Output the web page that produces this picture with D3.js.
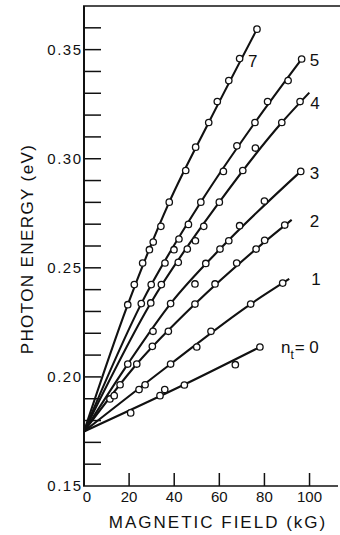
<!DOCTYPE html>
<html>
<head>
<meta charset="utf-8">
<script src="https://cdn.jsdelivr.net/npm/d3@7"></script>
<style>
  body { margin: 0; background: #fff; }
  svg { display: block; }
  text { font-family: "Liberation Sans", Arial, sans-serif; fill: #111; }
</style>
</head>
<body>
<div id="chart"></div>
<script>
// axis ticks
const fieldTicks = [0, 20, 40, 60, 80, 100];
const energyTicks = [0.15, 0.20, 0.25, 0.30, 0.35];
const energyMinor = [0.16, 0.17, 0.18, 0.19, 0.21, 0.22, 0.23, 0.24, 0.26, 0.27,
                     0.28, 0.29, 0.31, 0.32, 0.33, 0.34, 0.36];

// measured points [field kG, photon energy eV], one list per n_t
const pts0 = [[20.7, .1835], [33.7, .1914], [35.8, .1942], [44.5, .1963], [67.1, .2056], [78.0, .2137]];
const pts1 = [[24.4, .1942], [27.1, .1964], [38.4, .2059], [50.0, .2137], [56.3, .2209], [73.9, .2334], [88.1, .2430]];
const pts2 = [[11.5, .1899], [13.4, .1914], [16.0, .1964], [23.4, .2059], [30.3, .2140], [37.4, .2209],
              [49.2, .2334], [58.1, .2426], [67.7, .2522], [76.3, .2586], [80.1, .2626], [89.0, .2696]];
const pts3 = [[19.4, .2059], [30.6, .2209], [38.4, .2336], [49.2, .2426], [54.0, .2520], [60.3, .2586],
              [64.2, .2624], [69.0, .2693], [80.0, .2806], [96.1, .2942]];
const pts4 = [[29.6, .2339], [34.3, .2423], [41.8, .2525], [45.8, .2586], [49.4, .2624], [53.1, .2690],
              [60.0, .2801], [70.4, .2946], [76.0, .3049], [87.7, .3166], [95.8, .3262]];
const pts5 = [[25.4, .2336], [29.8, .2423], [35.9, .2522], [39.9, .2583], [42.1, .2632], [46.3, .2699],
              [51.8, .2801], [61.8, .2942], [67.8, .3059], [75.8, .3166], [81.4, .3262], [90.5, .3358], [96.5, .3457]];
const pts7 = [[19.4, .2331], [22.3, .2423], [26.0, .2522], [29.0, .2583], [30.7, .2618], [34.1, .2690],
              [37.8, .2801], [45.1, .2946], [49.5, .3053], [55.3, .3166], [59.1, .3262], [64.2, .3358],
              [69.0, .3459], [76.7, .3594]];

// drawn fit curves
const fit0 = [[0, .175], [44.5, .1965], [78.0, .2137]];
const fit1 = [[0, .175], [38.4, .2059], [73.9, .2334], [91.0, .2449]];
const fit2 = [[0, .175], [23.4, .2059], [49.2, .2334], [76.3, .2586], [92.1, .2720]];
const fit3 = [[0, .175], [19.4, .2059], [38.4, .2336], [60.3, .2586], [96.1, .2942]];
const fit4 = [[0, .175], [29.6, .2339], [60.0, .2801], [87.7, .3166], [99.9, .3303]];
const fit5 = [[0, .175], [25.4, .2336], [51.8, .2801], [75.8, .3166], [96.5, .3457]];
const fit7 = [[0, .175], [19.4, .2331], [37.8, .2801], [55.3, .3166], [76.7, .3594]];

const seriesNames = ["0", "1", "2", "3", "4", "5", "7"];
const seriesPts = [pts0, pts1, pts2, pts3, pts4, pts5, pts7];
const seriesFit = [fit0, fit1, fit2, fit3, fit4, fit5, fit7];

const width = 340, height = 535;
const ink = "#111";

const svg = d3.select("#chart").append("svg")
  .attr("width", width)
  .attr("height", height);

const x = d3.scaleLinear().domain([0, 112]).range([84, 336.6]);
const y = d3.scaleLinear().domain([0.15, 0.37]).range([486, 6]);

// frame: left axis, bottom axis, top rule
svg.append("line").attr("x1", x(0)).attr("x2", x(0)).attr("y1", y(0.37)).attr("y2", y(0.15))
  .attr("stroke", ink).attr("stroke-width", 2);
svg.append("line").attr("x1", x(0) - 1).attr("x2", 338).attr("y1", y(0.15)).attr("y2", y(0.15))
  .attr("stroke", ink).attr("stroke-width", 1.6);
svg.append("line").attr("x1", x(0) - 1).attr("x2", 340).attr("y1", y(0.37)).attr("y2", y(0.37))
  .attr("stroke", ink).attr("stroke-width", 1.4);

// y ticks point inward
const yTickLen = 17;
svg.append("g").selectAll("line")
  .data(energyTicks.concat(energyMinor).filter(d => d > 0.15))
  .join("line")
  .attr("x1", x(0)).attr("x2", x(0) + yTickLen)
  .attr("y1", d => y(d)).attr("y2", d => y(d))
  .attr("stroke", ink).attr("stroke-width", 1.5);

svg.append("g").selectAll("text")
  .data(energyTicks)
  .join("text")
  .attr("x", x(0) - 1.5)
  .attr("y", d => y(d))
  .attr("dy", "0.36em")
  .attr("text-anchor", "end")
  .style("font-size", "15px")
  .style("letter-spacing", "1.5px")
  .text(d => d.toFixed(2));

// x ticks point upward
svg.append("g").selectAll("line")
  .data(fieldTicks.filter(d => d > 0))
  .join("line")
  .attr("x1", d => x(d)).attr("x2", d => x(d))
  .attr("y1", y(0.15)).attr("y2", y(0.15) - 13)
  .attr("stroke", ink).attr("stroke-width", 1.5);

svg.append("g").selectAll("text")
  .data(fieldTicks)
  .join("text")
  .attr("x", d => x(d) + (d === 0 ? 3 : 0))
  .attr("y", 502)
  .attr("text-anchor", "middle")
  .style("font-size", "15px")
  .text(d => d);

// axis titles
svg.append("text")
  .attr("x", 218)
  .attr("y", 528)
  .attr("text-anchor", "middle")
  .style("font-size", "17px")
  .style("letter-spacing", "2px")
  .text("MAGNETIC FIELD (kG)");

svg.append("text")
  .attr("transform", "translate(33,249) rotate(-90)")
  .attr("text-anchor", "middle")
  .style("font-size", "17px")
  .style("letter-spacing", "1.4px")
  .text("PHOTON ENERGY (eV)");

// fit curves
const line = d3.line()
  .x(d => x(d[0]))
  .y(d => y(d[1]))
  .curve(d3.curveMonotoneX);

svg.append("g").selectAll("path")
  .data(seriesFit)
  .join("path")
  .attr("d", line)
  .attr("fill", "none")
  .attr("stroke", ink)
  .attr("stroke-width", 2.1)
  .attr("stroke-linejoin", "round");

// open circle markers
svg.append("g").selectAll("g")
  .data(seriesPts)
  .join("g")
  .selectAll("circle")
  .data(d => d)
  .join("circle")
  .attr("cx", d => x(d[0]))
  .attr("cy", d => y(d[1]))
  .attr("r", 3.2)
  .attr("fill", "#fff")
  .attr("stroke", ink)
  .attr("stroke-width", 1.3);

// curve labels, placed off the end of each fit
const labelOffset = {
  "7": [-9, 38], "5": [8, 7], "4": [1, 16], "3": [9, 8], "2": [18, 7], "1": [22, 6]
};
seriesNames.forEach((name, i) => {
  if (name === "0") return;
  const end = seriesFit[i][seriesFit[i].length - 1];
  const [dx, dy] = labelOffset[name];
  svg.append("text")
    .attr("x", x(end[0]) + dx)
    .attr("y", y(end[1]) + dy)
    .style("font-size", "17px")
    .text(name);
});

// n_t = 0 label
const end0 = fit0[fit0.length - 1];
const lab0 = svg.append("text")
  .attr("x", x(end0[0]) + 21)
  .attr("y", y(end0[1]) + 6)
  .style("font-size", "17px");
lab0.append("tspan").text("n");
lab0.append("tspan").attr("dy", 6).style("font-size", "12px").text("t");
lab0.append("tspan").attr("dy", -6).attr("dx", 1).text("= 0");
</script>
</body>
</html>
